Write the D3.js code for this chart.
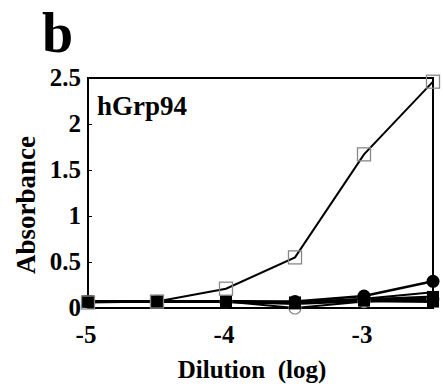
<!DOCTYPE html>
<html>
<head>
<meta charset="utf-8">
<script src="https://cdn.jsdelivr.net/npm/d3@7"></script>
<style>
  body { margin: 0; background: #fff; }
  svg text { font-family: "Liberation Serif", "Times New Roman", serif; font-weight: bold; fill: #000; }
</style>
</head>
<body>
<svg id="chart" width="443" height="390"></svg>
<script>
const dilutions = [-5, -4.5, -4, -3.5, -3, -2.5];
const xTicks = [-5, -4, -3];
const yTicks = [0, 0.5, 1, 1.5, 2, 2.5];

const openSquares = [0.06, 0.07, 0.21, 0.55, 1.67, 2.46];
const filledCircles = [0.07, 0.07, 0.07, 0.07, 0.13, 0.29];
const plainLine = [0.07, 0.07, 0.07, 0.06, 0.10, 0.17];
const openCircles = [0.07, 0.07, 0.07, 0.0, 0.07, 0.10];
const filledSquaresA = [0.07, 0.07, 0.07, 0.06, 0.09, 0.12];
const filledSquaresB = [0.07, 0.07, 0.07, 0.05, 0.08, 0.07];

const svg = d3.select('#chart');

const x = d3.scaleLinear().domain([-5, -2.5]).range([88, 433]);
const y = d3.scaleLinear().domain([0, 2.5]).range([308, 78]);

// frame
svg.append('rect')
  .attr('x', x(-5)).attr('y', y(2.5))
  .attr('width', x(-2.5) - x(-5)).attr('height', y(0) - y(2.5))
  .attr('fill', 'none').attr('stroke', '#000').attr('stroke-width', 2);

const yAxis = svg.append('g')
  .attr('transform', `translate(${x(-5)},0)`)
  .call(d3.axisRight(y).tickValues(yTicks).tickSize(4).tickFormat(''));
yAxis.select('.domain').remove();

const xAxis = svg.append('g')
  .attr('transform', `translate(0,${y(0)})`)
  .call(d3.axisTop(x).tickValues(xTicks).tickSize(4).tickFormat(''));
xAxis.select('.domain').remove();

svg.selectAll('.ylab')
  .data(yTicks)
  .join('text')
  .attr('class', 'ylab')
  .attr('x', 81)
  .attr('y', d => y(d) + 8)
  .attr('text-anchor', 'end')
  .style('font-size', '25px')
  .text(d => d);

svg.selectAll('.xlab')
  .data(xTicks)
  .join('text')
  .attr('class', 'xlab')
  .attr('x', d => x(d) - 2)
  .attr('y', 343)
  .attr('text-anchor', 'middle')
  .style('font-size', '25px')
  .text(d => d);

svg.append('text')
  .attr('x', 252).attr('y', 378)
  .attr('text-anchor', 'middle')
  .style('font-size', '25px')
  .attr('xml:space', 'preserve')
  .text('Dilution  (log)');

svg.append('text')
  .attr('transform', 'translate(35,205) rotate(-90)')
  .attr('text-anchor', 'middle')
  .style('font-size', '27px')
  .text('Absorbance');

svg.append('text')
  .attr('x', 97).attr('y', 115)
  .style('font-size', '27px')
  .text('hGrp94');

svg.append('text')
  .attr('x', 42).attr('y', 52)
  .style('font-size', '56px')
  .text('b');

const line = d3.line()
  .x((d, i) => x(dilutions[i]))
  .y(d => y(d));

const series = [
  { values: openCircles, marker: 'ocircle', width: 2 },
  { values: filledSquaresB, marker: 'fsquare', width: 3 },
  { values: plainLine, marker: null, width: 2 },
  { values: filledSquaresA, marker: 'fsquare', width: 3 },
  { values: filledCircles, marker: 'fcircle', width: 2.5 },
  { values: openSquares, marker: 'osquare', width: 2 }
];

series.forEach(s => {
  svg.append('path')
    .datum(s.values)
    .attr('d', line)
    .attr('fill', 'none')
    .attr('stroke', '#000')
    .attr('stroke-width', s.width);
});

series.forEach(s => {
  const g = svg.append('g');
  const pts = s.values.map((v, i) => [x(dilutions[i]), y(v)]);
  if (s.marker === 'fsquare') {
    g.selectAll('rect').data(pts).join('rect')
      .attr('x', d => d[0] - 6).attr('y', d => d[1] - 6)
      .attr('width', 12).attr('height', 12)
      .attr('fill', '#000');
  } else if (s.marker === 'osquare') {
    g.selectAll('rect').data(pts).join('rect')
      .attr('x', d => d[0] - 6.5).attr('y', d => d[1] - 6.5)
      .attr('width', 13).attr('height', 13)
      .attr('fill', 'none').attr('stroke', '#888').attr('stroke-width', 1.3);
  } else if (s.marker === 'fcircle') {
    g.selectAll('circle').data(pts).join('circle')
      .attr('cx', d => d[0]).attr('cy', d => d[1]).attr('r', 6.5)
      .attr('fill', '#000');
  } else if (s.marker === 'ocircle') {
    g.selectAll('circle').data(pts).join('circle')
      .attr('cx', d => d[0]).attr('cy', d => d[1]).attr('r', 6)
      .attr('fill', '#fff').attr('stroke', '#888').attr('stroke-width', 1.2);
  }
});
</script>
</body>
</html>
